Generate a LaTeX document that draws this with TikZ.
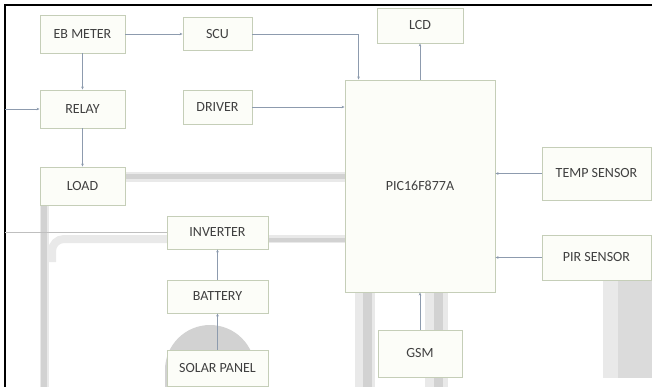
\documentclass[tikz,border=0pt]{standalone}
\usepackage{fontspec}
\setmainfont{Carlito}
\usetikzlibrary{arrows.meta}
\definecolor{boxline}{HTML}{C5CEB8}
\definecolor{boxfill}{HTML}{FCFDF8}
\definecolor{wirecol}{HTML}{8D9BAE}
\definecolor{smeardark}{HTML}{D2D2D2}
\definecolor{smearlight}{HTML}{E9E9E9}
\tikzset{
	blk/.style={draw=boxline,fill=boxfill,line width=0.9pt,inner sep=0pt,text=black!75,font=\fontsize{14}{16}\selectfont},
	wire/.style={draw=wirecol,line width=0.6pt,-{Stealth[length=3pt,width=2.6pt]}},
	smear/.style={draw=smeardark,line width=#1},
	smear/.default=6pt,
}
\begin{document}
\begin{tikzpicture}[x=1pt,y=-1pt]
	\useasboundingbox (0,0) rectangle (652,387);
	% grey bands behind the blocks
	\fill[smearlight] (603,280) rectangle (652,378);
	\fill[smeardark!80] (618,280) rectangle (652,378);
	\fill[smeardark] (165,387) -- (165,370) arc[start angle=180,end angle=360,radius=45] -- (255,387) -- cycle;
	\draw[smear=10pt,draw=smearlight] (125,177) -- (345,177);
	\draw[smear=5pt] (125,177) -- (345,177);
	\draw[smear=9pt,draw=smearlight] (44,205) -- (44,387);
	\draw[smear=6pt] (44,205) -- (44,387);
	\draw[smear=8pt,draw=smearlight,rounded corners=12pt] (52,262) |- (167,239);
	\draw[smear=8pt,draw=smearlight] (268,239) -- (345,239);
	\draw[smear=4pt] (268,240) -- (345,240);
	\foreach \x/\w in {365/20,436/23}{
		\draw[smear=\w pt,draw=smearlight] (\x,292) -- (\x,387);
		\draw[smear=9pt] (\x+2,292) -- (\x+2,387);
	}
	% frame
	\draw[line width=2.6pt] (5,387) |- (652,5);
	% blocks
	\node[blk,minimum width=85pt,minimum height=38pt] (eb) at (82.5,34) {EB METER};
	\node[blk,minimum width=69pt,minimum height=33pt] (scu) at (217.5,34) {SCU};
	\node[blk,minimum width=85pt,minimum height=38pt] (relay) at (82.5,109) {RELAY};
	\node[blk,minimum width=69pt,minimum height=34pt] (driver) at (217.5,107) {DRIVER};
	\node[blk,minimum width=85pt,minimum height=38pt] (load) at (82.5,186) {LOAD};
	\node[blk,minimum width=86pt,minimum height=35pt] (lcd) at (420,25.5) {LCD};
	\node[blk,minimum width=150pt,minimum height=212pt] (pic) at (420,186) {PIC16F877A};
	\node[blk,minimum width=109pt,minimum height=53pt] (temp) at (596.5,173.5) {TEMP SENSOR};
	\node[blk,minimum width=109pt,minimum height=45pt] (pir) at (596.5,257.5) {PIR SENSOR};
	\node[blk,minimum width=84pt,minimum height=47pt] (gsm) at (420,353.5) {GSM};
	\node[blk,minimum width=101pt,minimum height=33pt] (inv) at (217.5,232.5) {INVERTER};
	\node[blk,minimum width=101pt,minimum height=33pt] (bat) at (217.5,296.5) {BATTERY};
	\node[blk,minimum width=101pt,minimum height=36pt] (solar) at (217.5,368) {SOLAR PANEL};
	\coordinate (mains) at (5,109);
	\coordinate (acin) at (5,232.5);
	% connections
	\draw[wire] (eb) -- (scu);
	\draw[wire] (scu.east) -| ([xshift=14pt]pic.north west);
	\draw[wire] (eb) -- (relay);
	\draw[wire] (mains) -- (relay.west);
	\draw[wire] (relay) -- (load);
	\draw[wire] (driver.east) -- (driver.east -| pic.west);
	\draw[wire] (pic) -- (lcd);
	\draw[wire] (temp.west) -- (temp.west -| pic.east);
	\draw[wire] (pir.west) -- (pir.west -| pic.east);
	\draw[wire] (gsm) -- (pic);
	\draw[wire] (bat) -- (inv);
	\draw[wire] (solar) -- (bat);
	\draw[draw=black!25,line width=0.6pt] (acin) -- (inv.west);
\end{tikzpicture}
\end{document}
